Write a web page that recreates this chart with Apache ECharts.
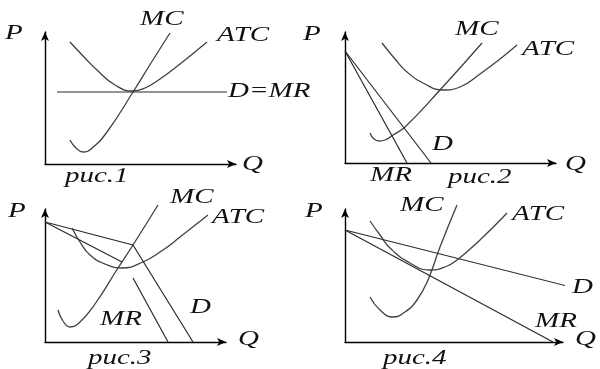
<!DOCTYPE html>
<html><head><meta charset="utf-8">
<script src="https://cdn.jsdelivr.net/npm/echarts@6/dist/echarts.min.js"></script>
<style>html,body{margin:0;padding:0;background:#fff}#c{width:600px;height:369px}</style>
</head><body><div id="c"></div>
<script>
// ---- data (abstract units from each panel's origin) ----
// рис.1
const p1MC  = [[25,24],[31,16],[38,12],[46,15],[62,32],[88,72],[106,101],[125,131]];
const p1ATC = [[25,122],[40,106],[52,94],[70,79],[88,73],[100,76],[115,85],[135,100],[162,122]];
const p1DMR = [[12,72],[182,72]];
// рис.2
const p2MC  = [[25,30],[29,24],[34,22],[40,23],[48,28],[60,36],[95,73],[137,120]];
const p2ATC = [[37,120],[50,104],[62,91],[80,79],[98,73],[115,76],[135,89],[155,104],[172,118]];
const p2D   = [[0,112],[86,0]];
const p2MR  = [[0,112],[62,0]];
// рис.3
const p3MC  = [[13,32],[18,21],[25,15],[35,20],[50,38],[73,74],[88,97],[113,137]];
const p3ATC = [[27,114],[35,100],[45,87],[60,78],[77,74],[98,80],[118,92],[135,105],[163,127]];
const p3D   = [[0,120],[88,97],[148,0]];
const p3MRa = [[0,120],[77,80]];
const p3MRb = [[88,64],[123,0]];
// рис.4
const p4MC  = [[25,45],[35,32],[48,25],[60,30],[72,42],[83,62],[95,95],[112,137]];
const p4ATC = [[25,121],[35,107],[45,94],[65,79],[85,72],[100,75],[112,82],[135,102],[162,129]];
const p4D   = [[0,112],[222,56]];
const p4MR  = [[0,112],[208,0]];

const captions = ['рис.1','рис.2','рис.3','рис.4'];

// ---- layout ----
const grids = [
  {left:45,  top:32,  width:191, height:132},
  {left:345, top:32,  width:211, height:131},
  {left:45,  top:209, width:181, height:133},
  {left:345, top:209, width:218, height:133}
];
function axis(i, max){
  return {type:'value', gridIndex:i, min:0, max:max,
    axisLine:{show:true, onZero:false, symbol:['none','arrow'], symbolSize:[6,9],
      lineStyle:{color:'#000', width:1.4}},
    axisTick:{show:false}, axisLabel:{show:false}, splitLine:{show:false}};
}
const xAxes = grids.map((g,i)=>axis(i,g.width));
const yAxes = grids.map((g,i)=>axis(i,g.height));

function curve(i, data){
  return {type:'line', xAxisIndex:i, yAxisIndex:i, data:data, smooth:0.5, symbol:'none',
    clip:false, silent:true, lineStyle:{color:'#404040', width:1.3}};
}
function straight(i, data){
  return {type:'line', xAxisIndex:i, yAxisIndex:i, data:data, smooth:false, symbol:'none',
    clip:false, silent:true, lineStyle:{color:'#2a2a2a', width:1.2}};
}
const series = [
  curve(0,p1MC), curve(0,p1ATC), straight(0,p1DMR),
  curve(1,p2MC), curve(1,p2ATC), straight(1,p2D), straight(1,p2MR),
  curve(2,p3MC), curve(2,p3ATC), straight(2,p3D), straight(2,p3MRa), straight(2,p3MRb),
  curve(3,p4MC), curve(3,p4ATC), straight(3,p4D), straight(3,p4MR)
];

const SX = 1.45;
const labels = [
  ['P',5,34],['Q',242,165],['MC',140,20],['ATC',217,36],['D=MR',228,92],[captions[0],65,177],
  ['P',303,35],['Q',565,165],['MC',455,30],['ATC',522,50],['D',432,145],['MR',370,176],[captions[1],448,178],
  ['P',8,212],['Q',238,340],['MC',170,198],['ATC',212,218],['D',190,308],['MR',100,320],[captions[2],88,359],
  ['P',305,212],['Q',575,340],['MC',400,206],['ATC',512,215],['D',572,288],['MR',535,322],[captions[3],383,359]
];
const graphic = labels.map(l=>({type:'text', x:l[1], y:l[2], scaleX:SX, silent:true,
  style:{text:l[0], fontFamily:'Liberation Serif', fontStyle:'italic', fontSize:20, fill:'#111',
         align:'left', verticalAlign:'middle', textAlign:'left', textVerticalAlign:'middle'}}));

const chart = echarts.init(document.getElementById('c'), null, {renderer:'canvas'});
chart.setOption({animation:false, backgroundColor:'#fff', grid:grids, xAxis:xAxes, yAxis:yAxes,
  series:series, graphic:graphic});
</script></body></html>
